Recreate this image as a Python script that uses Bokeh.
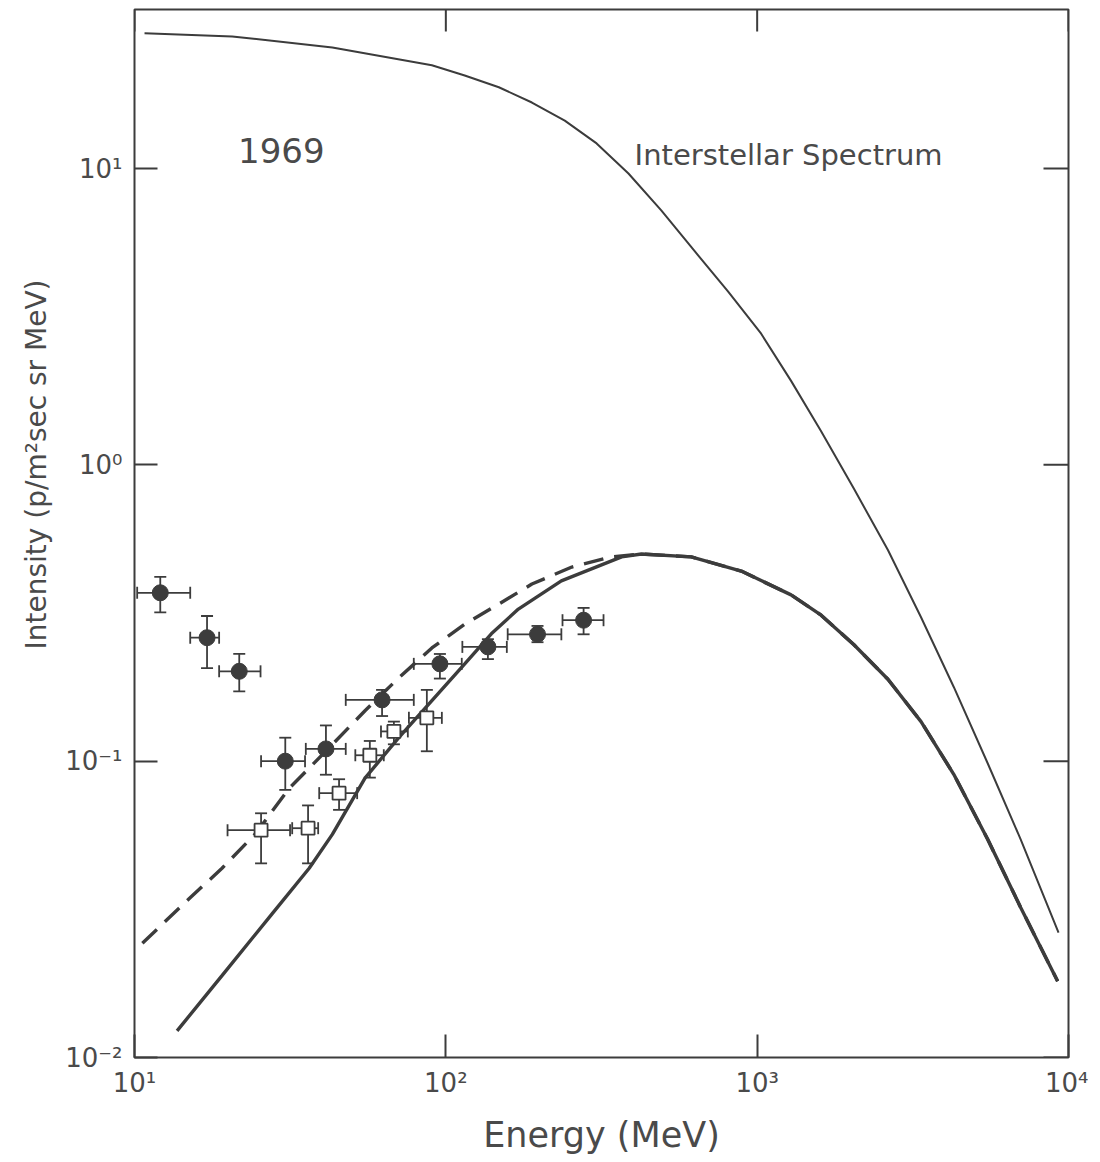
import math
from bokeh.plotting import figure
from bokeh.models import (Range1d, FixedTicker, CustomJSTickFormatter,
                          Whisker, TeeHead, ColumnDataSource, Label, Title)
from bokeh.embed import file_html
from bokeh.resources import INLINE

# ---------------- data ----------------
x_ticks = [10, 100, 1000, 10000]
y_ticks = [0.01, 0.1, 1, 10]

# Interstellar spectrum (thin line)
ism_E = [10.77, 20.6, 43.2, 90.2, 115, 148, 189, 241, 305, 386, 492, 628, 807, 1030, 1285,
         1603, 2046, 2630, 3360, 4280, 5500, 7020, 9290]
ism_I = [28.6, 27.9, 25.6, 22.3, 20.6, 18.8, 16.7, 14.5, 12.15, 9.62, 7.22, 5.28, 3.84, 2.77, 1.92,
         1.30, 0.830, 0.516, 0.306, 0.178, 0.0984, 0.0545, 0.0264]

# Modulated spectrum (thick solid line)
mod_E = [13.7, 19.1, 27.7, 36.4, 43.2, 55.0, 70.6, 90.2, 115, 140, 171, 235, 367, 425, 614, 889,
         1285, 1605, 2046, 2630, 3360, 4280, 5500, 7020, 9230]
mod_I = [0.0123, 0.0189, 0.0306, 0.0435, 0.0566, 0.0877, 0.120, 0.160, 0.213, 0.269, 0.326, 0.406,
         0.489, 0.500, 0.489, 0.438, 0.364, 0.311, 0.247, 0.189, 0.136, 0.0903, 0.0545, 0.0321, 0.0181]

# Alternative modulated spectrum (dashed line)
alt_E = [10.6, 15.0, 19.1, 24.4, 31.4, 42.2, 55.0, 70.6, 90.2, 115, 148, 189, 254, 340, 425,
         614, 889, 1285, 1605, 2046, 2630, 3360, 4280, 5500, 7020, 9230]
alt_I = [0.0243, 0.0344, 0.0435, 0.0567, 0.0810, 0.111, 0.148, 0.191, 0.241, 0.290, 0.339, 0.396, 0.452,
         0.489, 0.500, 0.489, 0.438, 0.364, 0.311, 0.247, 0.189, 0.136, 0.0903, 0.0545, 0.0321, 0.0181]

# Filled points
filled_E = [12.1, 17.1, 21.7, 30.5, 41.2, 62.4, 95.7, 136.5, 197, 277]
filled_I = [0.370, 0.261, 0.201, 0.100, 0.110, 0.161, 0.213, 0.243, 0.268, 0.299]
filled_E_lo = [10.2, 15.1, 18.7, 25.5, 35.5, 47.7, 78.9, 113, 158, 237]
filled_E_hi = [15.1, 18.7, 25.4, 35.3, 47.7, 78.9, 112.5, 157, 235, 321]
filled_I_lo = [0.318, 0.206, 0.172, 0.080, 0.090, 0.142, 0.190, 0.221, 0.252, 0.268]
filled_I_hi = [0.419, 0.309, 0.230, 0.120, 0.132, 0.174, 0.230, 0.258, 0.286, 0.329]

# Open squares
open_E = [25.5, 36.1, 45.4, 57.0, 68.1, 86.9]
open_I = [0.0585, 0.0594, 0.078, 0.1047, 0.126, 0.140]
open_E_lo = [19.9, 32.1, 39.2, 51.2, 61.9, 76.1]
open_E_hi = [31.6, 38.9, 51.9, 63.2, 75.5, 97.1]
open_I_lo = [0.0452, 0.0452, 0.0685, 0.0880, 0.114, 0.108]
open_I_hi = [0.0667, 0.0709, 0.0869, 0.117, 0.136, 0.174]

title_year = "1969"
curve_label = "Interstellar Spectrum"
x_label = "Energy (MeV)"
y_label = "Intensity (p/m\u00b2sec sr MeV)"

# ---------------- styling ----------------
INK = "#3c3c3c"
TXT = "#4a4a4a"
FONT = "DejaVu Sans"

p = figure(width=1088, height=1157, x_axis_type="log", y_axis_type="log",
           x_range=Range1d(10, 10000), y_range=Range1d(0.01, 34.4),
           output_backend="svg", toolbar_location=None,
           min_border_left=134, min_border_right=20, min_border_top=9, min_border_bottom=100)
p.grid.visible = False
p.background_fill_color = "white"
p.border_fill_color = "white"
p.outline_line_color = INK
p.outline_line_width = 2

fmt = CustomJSTickFormatter(code="""
const sup = {'-':'\\u207b','0':'\\u2070','1':'\\u00b9','2':'\\u00b2','3':'\\u00b3','4':'\\u2074'};
const e = Math.round(Math.log10(tick));
return '10' + String(e).split('').map(c => sup[c]).join('');
""")

xt = FixedTicker(ticks=x_ticks, minor_ticks=[])
yt = FixedTicker(ticks=y_ticks, minor_ticks=[])

for ax, tk in ((p.xaxis[0], xt), (p.yaxis[0], yt)):
    ax.ticker = tk
    ax.formatter = fmt
    ax.major_tick_in = 23
    ax.major_tick_out = 0
    ax.minor_tick_line_color = None
    ax.axis_line_color = None
    ax.major_tick_line_color = INK
    ax.major_tick_line_width = 2
    ax.major_label_text_font = FONT
    ax.major_label_text_font_size = "26px"
    ax.major_label_text_color = TXT

p.xaxis.major_label_standoff = 10
p.yaxis.major_label_standoff = 12
p.xaxis.axis_label = x_label
p.xaxis.axis_label_text_font = FONT
p.xaxis.axis_label_text_font_size = "35px"
p.xaxis.axis_label_text_font_style = "normal"
p.xaxis.axis_label_text_color = TXT
p.xaxis.axis_label_standoff = 14

# y-axis title on the left panel, starting part-way up as in the original
ytitle = Title(text=y_label, align="left", offset=408, text_font=FONT,
               text_font_size="28px", text_font_style="normal", text_color=TXT)
if "standoff" in Title.properties():
    ytitle.standoff = 20
p.add_layout(ytitle, "left")

# tick marks on the top and right edges (dash markers clipped by the frame)
p.scatter(x_ticks, [34.4] * len(x_ticks), marker="dash", angle=math.pi / 2, size=44,
          line_color=INK, line_width=2)
p.scatter([10000] * len(y_ticks), y_ticks, marker="dash", size=50,
          line_color=INK, line_width=2)

# curves
p.line(ism_E, ism_I, line_color=INK, line_width=2)
p.line(alt_E, alt_I, line_color=INK, line_width=3.4, line_dash="20 11")
p.line(mod_E, mod_I, line_color=INK, line_width=3.4)

# error bars
def add_errors(E, I, Elo, Ehi, Ilo, Ihi):
    src = ColumnDataSource(dict(x=E, y=I, xl=Elo, xh=Ehi, yl=Ilo, yh=Ihi))
    for base, lo, hi, dim in (("x", "yl", "yh", "height"), ("y", "xl", "xh", "width")):
        w = Whisker(source=src, base=base, lower=lo, upper=hi, dimension=dim,
                    line_color=INK, line_width=1.8, level="underlay",
                    upper_head=TeeHead(size=12, line_color=INK, line_width=1.8),
                    lower_head=TeeHead(size=12, line_color=INK, line_width=1.8))
        p.add_layout(w)
    return src

add_errors(filled_E, filled_I, filled_E_lo, filled_E_hi, filled_I_lo, filled_I_hi)
add_errors(open_E, open_I, open_E_lo, open_E_hi, open_I_lo, open_I_hi)

p.scatter(filled_E, filled_I, marker="circle", size=16, fill_color=INK, line_color=INK)
p.scatter(open_E, open_I, marker="square", size=13, fill_color="white", line_color=INK, line_width=1.8)

# texts inside the plot
p.add_layout(Label(x=21.5, y=11.5, text=title_year, text_font=FONT, text_font_size="34px",
                   text_color=TXT, text_align="left", text_baseline="middle"))
p.add_layout(Label(x=404, y=11.07, text=curve_label, text_font=FONT, text_font_size="29px",
                   text_color=TXT, text_align="left", text_baseline="middle"))

open("out.html", "w").write(file_html(p, INLINE))
